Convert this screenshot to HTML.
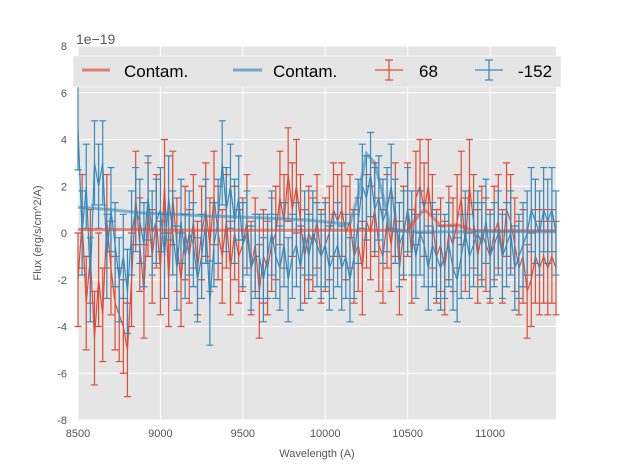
<!DOCTYPE html>
<html><head><meta charset="utf-8"><style>
body{margin:0;background:#fff;}
svg{display:block;font-family:"Liberation Sans",sans-serif;}
</style></head><body>
<svg id="chart" width="617" height="467">
<rect x="78" y="46" width="478" height="374" fill="#E5E5E5"/>
<g id="grid"></g>
<g id="series"></g>
<g id="axes"></g>
<text x="76" y="44" font-size="14" fill="#555">1e−19</text>
<text x="317" y="457" font-size="11" fill="#555" text-anchor="middle">Wavelength (A)</text>
<text transform="translate(41,233) rotate(-90)" font-size="11" fill="#555" text-anchor="middle">Flux (erg/s/cm^2/A)</text>
<g>
<rect x="73" y="56" width="488" height="31" fill="#E5E5E5" stroke="#fff" stroke-width="0.5"/>
<g><line x1="82" y1="70" x2="110" y2="70" stroke="#E24A33" stroke-width="3" opacity="0.65"/><text x="124" y="77" font-size="17" fill="#000">Contam.</text></g>
<g><line x1="233" y1="70" x2="262" y2="70" stroke="#348ABD" stroke-width="3" opacity="0.65"/><text x="273" y="77" font-size="17" fill="#000">Contam.</text></g>
<g stroke="#E24A33" stroke-width="1.2"><line x1="375" y1="70" x2="403" y2="70"/><line x1="389" y1="60" x2="389" y2="80"/><line x1="385" y1="60" x2="393" y2="60"/><line x1="385" y1="80" x2="393" y2="80"/><text x="419" y="77" font-size="17" fill="#000" stroke="none">68</text></g>
<g stroke="#348ABD" stroke-width="1.2"><line x1="475" y1="70" x2="503" y2="70"/><line x1="489" y1="60" x2="489" y2="80"/><line x1="485" y1="60" x2="493" y2="60"/><line x1="485" y1="80" x2="493" y2="80"/><text x="518" y="77" font-size="17" fill="#000" stroke="none">-152</text></g>
</g>
</svg>
<script>
const waveStart = 8500, waveStep = 25;
const red68 = [-2,0.5,-3,-1,-4.5,-2,-3.5,0.5,-1.5,-3,-3.5,-4,-5,-2,1.5,-0.5,-2.5,1,-1,0.5,-1.5,2,-2,1.5,-0.5,-2,0,-1,0.5,-1.5,0,1,-0.5,1.5,0,-1,0.5,-1.5,0,-1,-0.5,0.5,-1.5,-0.5,-2.5,-1,-1.5,-0.5,0,1.5,0.5,2.5,1,2,0.5,-1,0,-0.5,0.5,-1,-0.5,0,1,0.5,1,0,0.5,-1,-0.5,-1.5,0.5,0,1,-0.5,-1,0.5,-0.5,1,-1.5,0,1,-1,1.5,2,1,2,0.5,-1,-0.5,-1.5,0,-0.5,0.5,1.5,-0.5,2,0.5,-1,0,-0.5,-1,0,0.5,-1,1,0.5,-0.5,-1.5,-1,-2.5,-2,-1,-1.5,-1,-1.5,-1,-1.5];
const blue152 = [4.5,0,2,-2,3,2,3,-1,1,-0.5,-2,-1,-2.5,0,1,0.5,-0.5,1.5,0,0.5,1,-1,1.5,0,-1.5,0.5,-1,0,-0.5,-2,-1,0.5,-3,-0.5,0.5,3,1,2,0.5,1.5,-0.5,0,-1.5,-1,-1,-2,-1,0,-1,-1.5,-0.5,-2,-1,-0.5,-1.5,0,-1,0,-0.5,-1,-0.5,-1.5,-1,-0.5,-1.5,-1,-2,-1,0.5,2,1.5,2.5,1,1.5,0.5,1,2,0.5,-0.5,0,1,0,-1,0,-0.5,-1.5,-0.5,-1,-1.5,-1,-0.5,-1.5,-2,-1,0,-1,-0.5,0,-0.5,0.5,-1,-0.5,0,-1,-0.5,0,-1.5,-1,-0.5,0,1,0.5,0,1,0.5,1,0];
const redErr = 2.0, blueErr = 1.8;
const contamWave = [8500,8700,8900,9100,9300,9500,9700,9900,10100,10150,10200,10250,10300,10350,10400,10500,10550,10600,10650,10700,10800,10900,11100,11400];
const contamRed = [0.15,0.15,0.15,0.12,0.12,0.12,0.12,0.12,0.12,0.12,0.12,0.12,0.12,0.12,0.12,0.12,0.6,1.0,0.7,0.3,0.35,0.1,0.1,0.1];
const contamBlue = [1.1,1.0,0.85,0.8,0.72,0.68,0.62,0.55,0.4,0.4,1.6,3.4,3.0,1.6,0.1,0.05,0.05,0.05,0.05,0.05,0.05,0.05,0.05,0.05];
const xTicks = [8500,9000,9500,10000,10500,11000];
const yTicks = [-8,-6,-4,-2,0,2,4,6,8];

const X = w => 78 + (w-8500)/2900*478;
const Y = v => 233 - v*23.375;
const NS = "http://www.w3.org/2000/svg";
function mk(tag, attrs, parent){const e=document.createElementNS(NS,tag);for(const k in attrs)e.setAttribute(k,attrs[k]);parent.appendChild(e);return e;}
const grid=document.getElementById('grid'), axes=document.getElementById('axes'), ser=document.getElementById('series');
xTicks.forEach(t=>{
  const l=mk('line',{x1:X(t),x2:X(t),y1:46,y2:420,stroke:'#fff','stroke-width':1},grid);
  
  
  const tx=mk('text',{x:X(t),y:437,'font-size':11,fill:'#555','text-anchor':'middle'},axes);
  tx.textContent=t;
  
  
});
yTicks.forEach(t=>{
  const l=mk('line',{x1:78,x2:556,y1:Y(t),y2:Y(t),stroke:'#fff','stroke-width':1},grid);
  
  
  const tx=mk('text',{x:67,y:Y(t)+4,'font-size':11,fill:'#555','text-anchor':'end'},axes);
  tx.textContent=t;
  
  
});
function drawErr(vals, err, color, name){
  const g=mk('g',{stroke:color,'stroke-width':1.2,fill:'none'},ser);
  
  
  let d='';
  vals.forEach((v,i)=>{
    const x=X(waveStart+i*waveStep);
    d+=(i?'L':'M')+x+' '+Y(v);
    const b=mk('path',{d:`M${x} ${Y(v-err)}V${Y(v+err)}M${x-3.5} ${Y(v-err)}h7M${x-3.5} ${Y(v+err)}h7`},g);
    
    
  });
  const p=mk('path',{d:d},g);
  
  
}
function drawContam(vals,color,name){
  let d='';
  vals.forEach((v,i)=>{d+=(i?'L':'M')+X(contamWave[i])+' '+Y(v);});
  const p=mk('path',{d:d,stroke:color,'stroke-width':3,fill:'none',opacity:0.6},ser);
  
  
}
drawErr(red68, redErr, '#E24A33', 'series-68');
drawErr(blue152, blueErr, '#348ABD', 'series-152');
drawContam(contamRed,'#E24A33','contam-red');
drawContam(contamBlue,'#348ABD','contam-blue');
</script>
</body></html>
